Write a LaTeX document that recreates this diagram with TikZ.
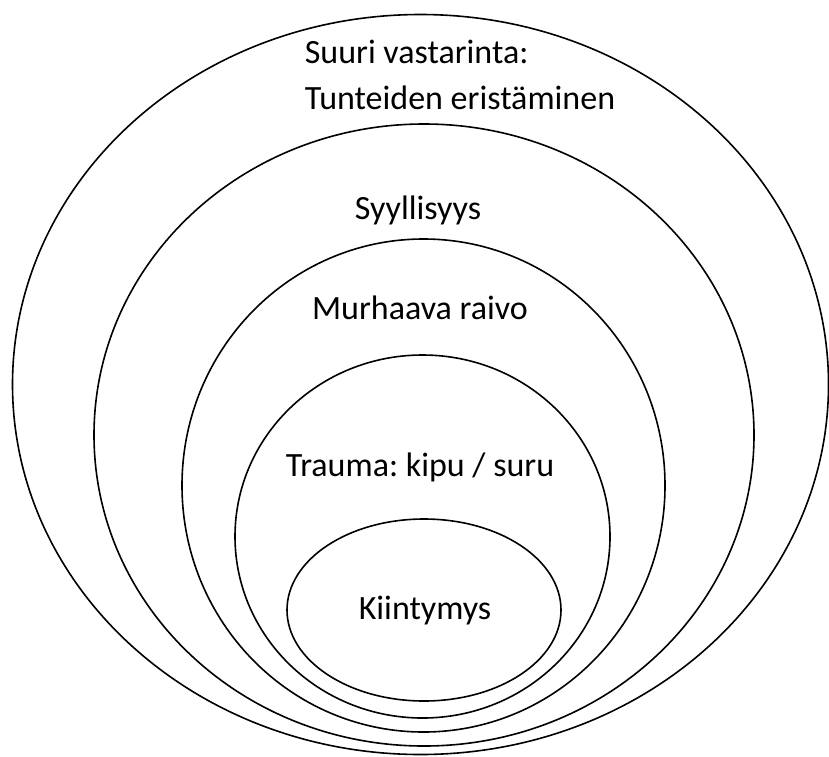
\documentclass[tikz,border=0pt]{standalone}
\usepackage{fontspec}
\setmainfont{Carlito}
\usepackage{tikz}
\usetikzlibrary{positioning}
\frenchspacing

\begin{document}
\begin{tikzpicture}[x=1pt, y=-1pt]

        \tikzset{
            ring/.style={draw=black, line width=1.6pt},
            layer/.style={align=center, font=\fontsize{34}{46}\selectfont, text=black, inner sep=0pt}
        }

        \useasboundingbox (0,0) rectangle (829,756);

        % nested rings, outermost first
        \draw[ring] (420.5,384.5) ellipse [x radius=408, y radius=370];
        \draw[ring] (424,435) ellipse [x radius=330, y radius=311];
        \draw[ring] (423.5,485.5) ellipse [x radius=241.5, y radius=246.5];
        \draw[ring] (422.5,536.5) ellipse [x radius=187.5, y radius=181.5];
        \draw[ring] (424,610) ellipse [x radius=137, y radius=91];

        \node[layer, align=left] (resistance) at (460,75) {Suuri vastarinta:\\Tunteiden eristäminen};
        \node[layer] (guilt) at (418,210) {Syyllisyys};
        \node[layer] (rage) at (420,308) {Murhaava raivo};
        \node[layer] (trauma) at (420,467) {Trauma: kipu / suru};
        \node[layer] (attachment) at (425,611) {Kiintymys};

    \end{tikzpicture}
\end{document}
